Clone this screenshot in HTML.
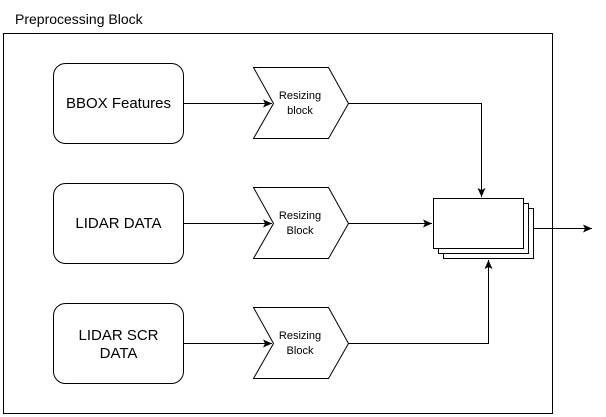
<!DOCTYPE html>
<html><head><style>body{margin:0;background:#fff}svg{display:block}text{font-family:"Liberation Sans",Arial,sans-serif}</style></head>
<body>
<svg width="606" height="417" viewBox="0 0 606 417" xmlns="http://www.w3.org/2000/svg">
<defs><marker id="a" markerWidth="10" markerHeight="10" refX="9" refY="5" orient="auto" markerUnits="userSpaceOnUse"><path d="M0,1 L9,5 L0,9 L2,5 Z" fill="#000"/></marker></defs>
<text x="15" y="24" font-size="14">Preprocessing Block</text>
<rect x="3.5" y="33.5" width="549" height="380" fill="none" stroke="#000"/>
<g fill="#fff" stroke="#000">
<rect x="53.5" y="63.5" width="130" height="80" rx="12"/>
<rect x="53.5" y="183.5" width="130" height="80" rx="12"/>
<rect x="53.5" y="303.5" width="130" height="80" rx="12"/>
<path d="M253.5,67.5 H328.5 L348.5,103.5 L328.5,138.5 H253.5 L273.5,103.5 Z"/>
<path d="M253.5,187.5 H328.5 L348.5,223.5 L328.5,258.5 H253.5 L273.5,223.5 Z"/>
<path d="M253.5,307.5 H328.5 L348.5,343.5 L328.5,378.5 H253.5 L273.5,343.5 Z"/>
<rect x="443.5" y="208.5" width="90" height="50"/>
<rect x="438.5" y="203.5" width="90" height="50"/>
<rect x="433.5" y="198.5" width="90" height="50"/>
</g>
<g fill="none" stroke="#000" marker-end="url(#a)">
<path d="M183.5,103.5 H272"/>
<path d="M183.5,223.5 H272"/>
<path d="M183.5,343.5 H272"/>
<path d="M348.5,103.5 H481.5 V197"/>
<path d="M348.5,223.5 H432"/>
<path d="M348.5,343.5 H488.5 V260"/>
<path d="M533.5,228.5 H592"/>
</g>
<g font-size="15" text-anchor="middle">
<text x="118.5" y="108">BBOX Features</text>
<text x="118.5" y="228">LIDAR DATA</text>
<text x="118.5" y="340">LIDAR SCR</text>
<text x="118.5" y="358">DATA</text>
</g>
<g font-size="11" text-anchor="middle">
<text x="300" y="99">Resizing</text><text x="300" y="114">block</text>
<text x="300" y="219">Resizing</text><text x="300" y="234">Block</text>
<text x="300" y="339">Resizing</text><text x="300" y="354">Block</text>
</g>
</svg>
</body></html>
